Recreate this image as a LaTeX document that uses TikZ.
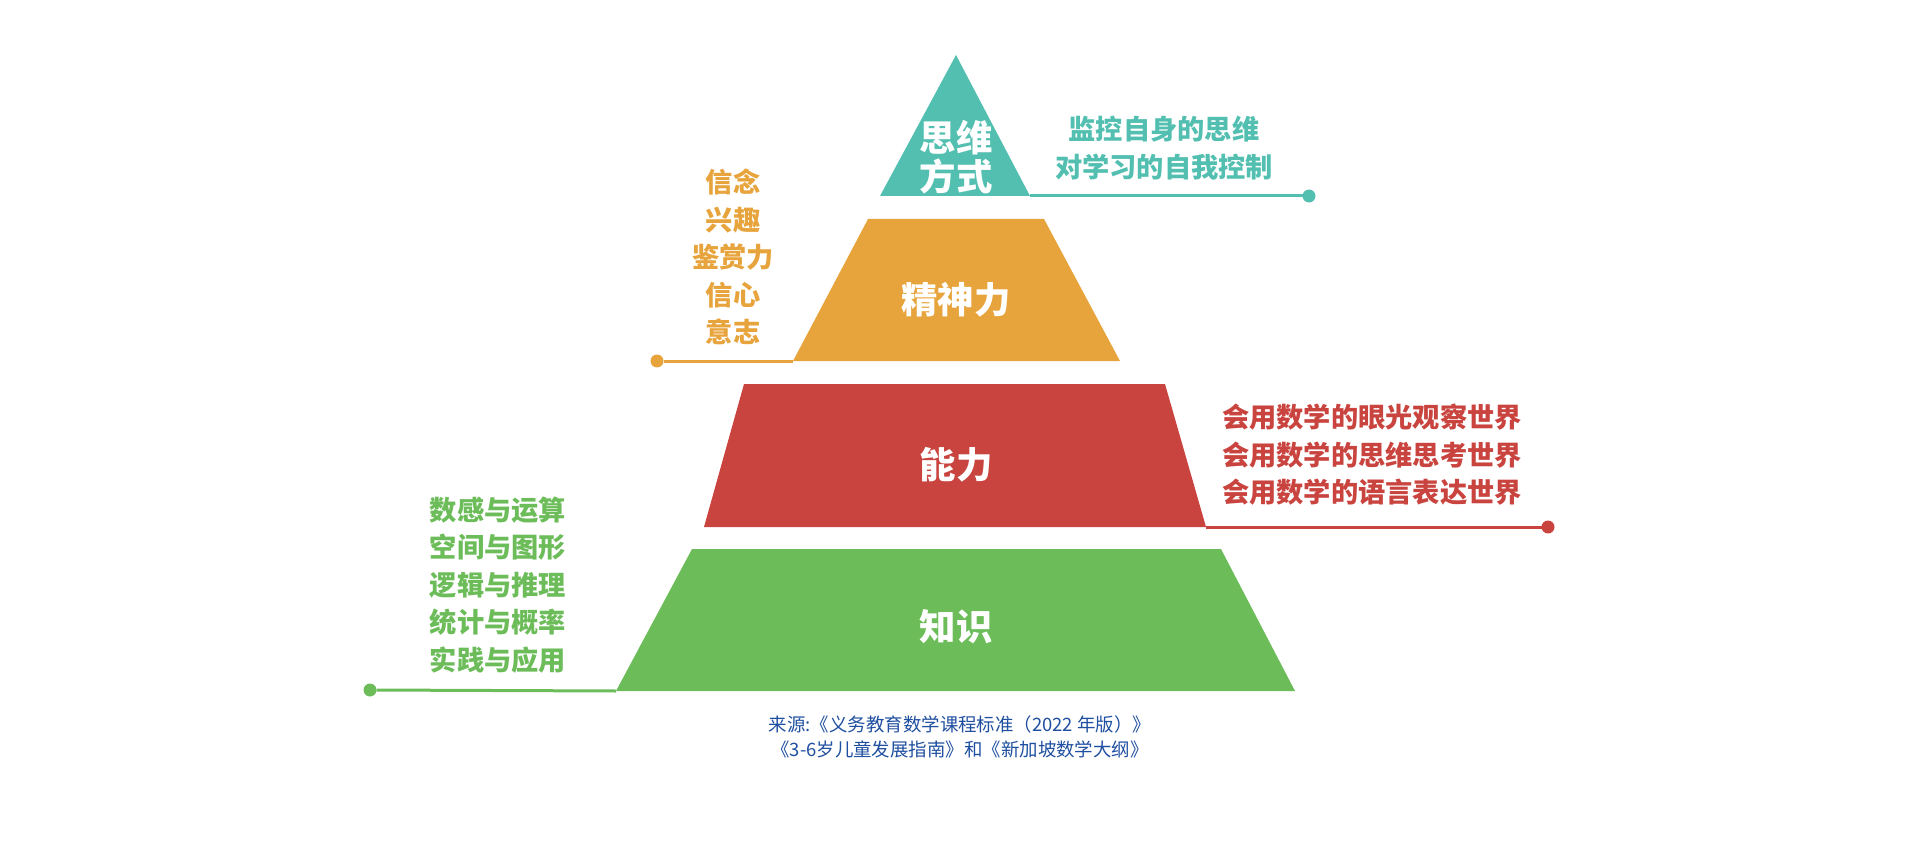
\documentclass[tikz,border=0pt]{standalone}
\usepackage{fontspec}
\setmainfont{Noto Sans CJK SC}
\definecolor{tealc}{HTML}{52BFB0}
\definecolor{orangec}{HTML}{E8A43C}
\definecolor{redc}{HTML}{C9443F}
\definecolor{greenc}{HTML}{6CBD5A}
\definecolor{bluec}{HTML}{1F4FA0}

\begin{document}
\begin{tikzpicture}[x=0.02cm,y=-0.02cm,
	dot/.style={circle,fill=#1,inner sep=0,outer sep=0,minimum size=0.26cm},
	link/.style={draw=#1,line width=0.06cm},
	tier/.style={text=white,inner sep=0,align=center,font=\fontsize{20.7}{22}\selectfont\bfseries},
	note/.style={text=#1,inner sep=0,align=center,font=\fontsize{15.5}{21.4}\selectfont\bfseries}]
	\useasboundingbox (0,0) rectangle (1920,841);
	% top
	\coordinate (a1) at (956,55);
	\coordinate (a2) at (1030,196);
	\coordinate (a3) at (880,196);
	\fill[tealc] (a1) -- (a2) -- (a3) -- cycle;
	% second
	\coordinate (b1) at (868,219);
	\coordinate (b2) at (1044,219);
	\coordinate (b3) at (1120,361);
	\coordinate (b4) at (793,361);
	\fill[orangec] (b1) -- (b2) -- (b3) -- (b4) -- cycle;
	% third
	\coordinate (c1) at (744,384);
	\coordinate (c2) at (1165,384);
	\coordinate (c3) at (1206,527);
	\coordinate (c4) at (704,527);
	\fill[redc] (c1) -- (c2) -- (c3) -- (c4) -- cycle;
	% base
	\coordinate (e1) at (692,549);
	\coordinate (e2) at (1221,549);
	\coordinate (e3) at (1295,691);
	\coordinate (e4) at (616,691);
	\fill[greenc] (e1) -- (e2) -- (e3) -- (e4) -- cycle;

	\node[tier] (way) at (956,157) {思维\\方式};
	\node[tier] (spirit) at (956,300) {精神力};
	\node[tier] (ability) at (956,465) {能力};
	\node[tier] (know) at (956,627) {知识};

	\node[dot=tealc] (da) at (1309,196) {};
	\node[dot=orangec] (db) at (657,361) {};
	\node[dot=redc] (dc) at (1548,527) {};
	\node[dot=greenc] (de) at (370,690) {};
	\draw[link=tealc] (a2) -- (da);
	\draw[link=orangec] (b4) -- (db);
	\draw[link=redc] (c3) -- (dc);
	\draw[link=greenc] (e4) -- (de);

	\node[note=tealc] (waytext) at (1164,148) {监控自身的思维\\对学习的自我控制};
	\node[note=orangec] (spirittext) at (733,257) {信念\\兴趣\\鉴赏力\\信心\\意志};
	\node[note=redc] (abilitytext) at (1372,455) {会用数学的眼光观察世界\\会用数学的思维思考世界\\会用数学的语言表达世界};
	\node[note=greenc] (knowtext) at (498,585) {数感与运算\\空间与图形\\逻辑与推理\\统计与概率\\实践与应用};

	\node[text=bluec,inner sep=0,align=center,font=\fontsize{10.5}{14.2}\selectfont] (source) at (960,737)
		{来源:《义务教育数学课程标准（2022 年版）》\\《3-6岁儿童发展指南》和《新加坡数学大纲》};
\end{tikzpicture}
\end{document}
